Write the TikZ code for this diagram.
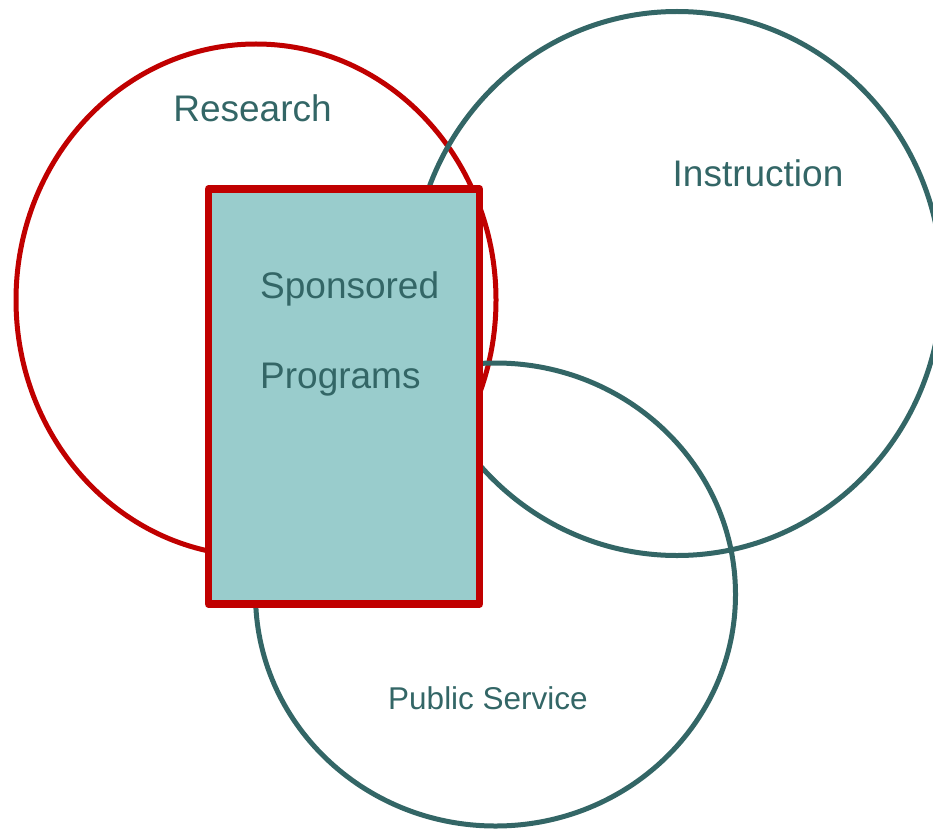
\documentclass[tikz,border=0pt]{standalone}
\usepackage{fontspec}
\setmainfont{Liberation Sans}
\usetikzlibrary{shapes.geometric}
\definecolor{redline}{HTML}{C00000}
\definecolor{tealline}{HTML}{336666}
\definecolor{tealfill}{HTML}{99CCCC}
\tikzset{
  ring/.style={ellipse, draw, line width=5pt, inner sep=0pt, outer sep=0pt},
  lbl/.style={text=tealline, inner sep=0pt, anchor=base, font=\fontsize{37}{44}\selectfont},
  smalllbl/.style={lbl, font=\fontsize{31.5}{38}\selectfont},
  spbox/.style={draw=redline, fill=tealfill, line width=7.5pt, line join=round, inner sep=0pt, outer sep=0pt}
}
\begin{document}
\begin{tikzpicture}[x=1pt,y=-1pt]
\clip (0,0) rectangle (933,829);
\node[ring, draw=redline, minimum width=480pt, minimum height=512pt] (research) at (256,300) {};
\node[ring, draw=tealline, minimum width=530pt, minimum height=544pt] (instruction) at (677,283.5) {};
\node[ring, draw=tealline, minimum width=480pt, minimum height=463pt] (public) at (495.5,594.5) {};
\node[spbox, minimum width=271pt, minimum height=415pt] (sponsored) at (344,396.5) {};
\node[lbl] (tresearch) at (252.5,122) {Research};
\node[lbl] (tinstruction) at (758,186) {Instruction};
\node[lbl, anchor=base west] (tsponsored) at (260,298) {Sponsored};
\node[lbl, anchor=base west] (tprograms) at (260,388) {Programs};
\node[smalllbl] (tpublic) at (488,709) {Public Service};
\end{tikzpicture}
\end{document}
